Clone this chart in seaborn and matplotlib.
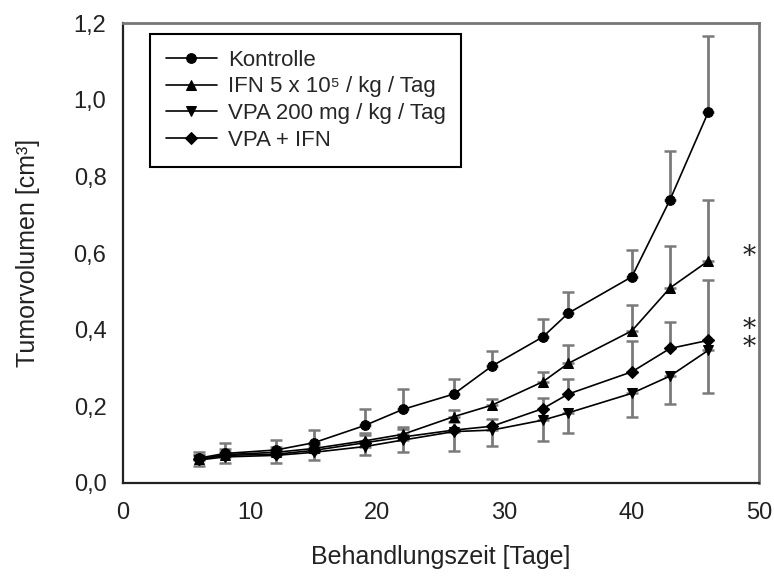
import numpy as np
import pandas as pd
import matplotlib
matplotlib.use("Agg")
import matplotlib.pyplot as plt
import matplotlib.ticker as mticker
import seaborn as sns

# ---- data ----
days = [6, 8, 12, 15, 19, 22, 26, 29, 33, 35, 40, 43, 46]
groups = ["Kontrolle", "IFN 5 x 10\u2075 / kg / Tag", "VPA 200 mg / kg / Tag", "VPA + IFN"]

kontrolle = [0.065, 0.077, 0.086, 0.105, 0.150, 0.192, 0.232, 0.305, 0.381, 0.443, 0.538, 0.739, 0.967]
kontrolle_err = [0.017, 0.026, 0.026, 0.033, 0.042, 0.052, 0.038, 0.040, 0.048, 0.055, 0.069, 0.128, 0.198]

ifn = [0.062, 0.074, 0.080, 0.090, 0.110, 0.127, 0.173, 0.203, 0.264, 0.312, 0.397, 0.509, 0.579]
ifn_err = [0.010, 0.015, 0.015, 0.015, 0.020, 0.020, 0.018, 0.015, 0.026, 0.047, 0.067, 0.108, 0.160]

vpa = [0.060, 0.068, 0.072, 0.080, 0.095, 0.112, 0.134, 0.138, 0.164, 0.183, 0.234, 0.279, 0.346]
vpa_err = [0.015, 0.015, 0.020, 0.020, 0.022, 0.030, 0.050, 0.042, 0.054, 0.052, 0.061, 0.072, 0.111]

vpa_ifn = [0.062, 0.072, 0.075, 0.085, 0.105, 0.120, 0.138, 0.148, 0.194, 0.232, 0.290, 0.351, 0.372]
vpa_ifn_err = [0.010, 0.010, 0.010, 0.015, 0.020, 0.020, 0.020, 0.020, 0.029, 0.038, 0.080, 0.069, 0.157]

series_vals = [kontrolle, ifn, vpa, vpa_ifn]
series_err = [kontrolle_err, ifn_err, vpa_err, vpa_ifn_err]
err_dir = ["up", "up", "down", "up"]
markers = ["o", "^", "v", "D"]
msizes = [7, 7.5, 7.5, 6.5]

star_x = 49.2
star_single_y = 0.59
star_double_y = 0.376

# ---- build long-form table ----
rows = []
for g, vals in zip(groups, series_vals):
    for d, v in zip(days, vals):
        rows.append({"Tag": d, "Volumen": v, "Gruppe": g})
df = pd.DataFrame(rows)

sns.set_theme(style="white")
plt.rcParams["font.family"] = ["Liberation Sans", "DejaVu Sans"]

fig = plt.figure(figsize=(7.74, 5.76), dpi=100)
ax = fig.add_axes([0.159, 0.1615, 0.8217, 0.7985])

# error bars (gray, one-sided)
for vals, errs, dr in zip(series_vals, series_err, err_dir):
    vals = np.asarray(vals); errs = np.asarray(errs)
    if dr == "up":
        yerr = [np.zeros_like(errs), errs]
    else:
        yerr = [errs, np.zeros_like(errs)]
    ax.errorbar(days, vals, yerr=yerr, fmt="none", ecolor="#7a7a7a",
                elinewidth=2.0, capsize=4.5, capthick=1.8, zorder=1)

for g, m, ms in zip(groups, markers, msizes):
    sub = df[df["Gruppe"] == g]
    sns.lineplot(data=sub, x="Tag", y="Volumen", ax=ax, color="black",
                 marker=m, markersize=ms, markeredgecolor="black",
                 linewidth=1.2, label=g, zorder=3, errorbar=None)

ax.text(star_x, star_single_y, "*", fontsize=19, family="DejaVu Serif",
        ha="center", va="center", color="#222222")
ax.text(star_x, star_double_y, "*\n*", fontsize=19, family="DejaVu Serif",
        ha="center", va="center", color="#222222", linespacing=0.65)

ax.set_xlim(0, 50)
ax.set_ylim(0, 1.2)
ax.set_xticks([0, 10, 20, 30, 40, 50])
ax.set_yticks([0, 0.2, 0.4, 0.6, 0.8, 1.0, 1.2])
ax.yaxis.set_major_formatter(mticker.FuncFormatter(lambda v, p: f"{v:.1f}".replace(".", ",")))
ax.set_xlabel("Behandlungszeit [Tage]", fontsize=18, color="#222222")
ax.set_ylabel("Tumorvolumen [cm\u00b3]", fontsize=18, color="#222222")
ax.xaxis.set_label_coords(0.5, -0.135)
ax.yaxis.set_label_coords(-0.13, 0.5)
ax.tick_params(axis="both", labelsize=17, colors="#222222", direction="out", length=5, width=1.2)
ax.tick_params(axis="y", pad=7)
ax.tick_params(axis="x", direction="inout", length=8, pad=10)

for s in ["left", "bottom"]:
    ax.spines[s].set_color("#222222")
    ax.spines[s].set_linewidth(1.6)
for s in ["top", "right"]:
    ax.spines[s].set_color("#777777")
    ax.spines[s].set_linewidth(2.0)

leg = ax.legend(loc="upper left", bbox_to_anchor=(0.0425, 0.976), borderaxespad=0,
                fontsize=16, frameon=True, fancybox=False, edgecolor="black", framealpha=1,
                handlelength=2.3, borderpad=0.7, labelspacing=0.26, handletextpad=0.5)
leg.get_frame().set_linewidth(1.5)

fig.savefig("out.png", dpi=100)
